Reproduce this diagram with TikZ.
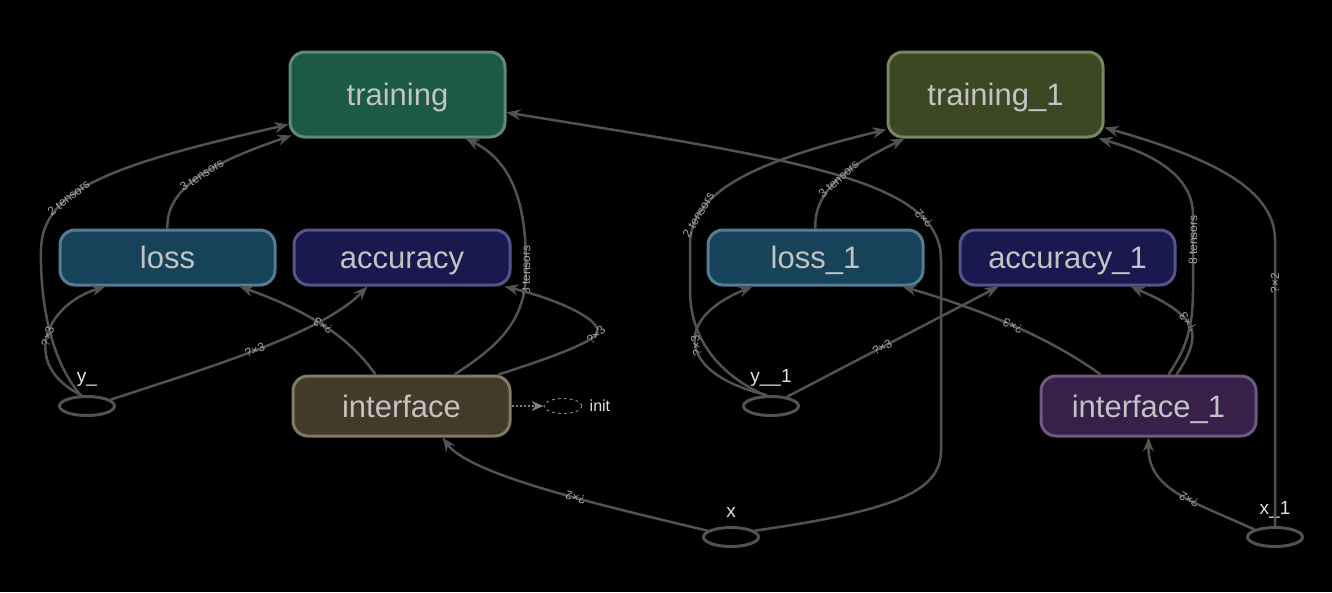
\documentclass[tikz,border=0pt]{standalone}
\usepackage{fontspec}
\setmainfont{Liberation Sans}
\usetikzlibrary{arrows.meta,shapes.geometric,calc}
\definecolor{edgec}{RGB}{82,82,82}
\definecolor{nodetxt}{RGB}{195,195,195}
\definecolor{phtxt}{RGB}{225,225,225}
\definecolor{elabtxt}{RGB}{165,165,165}
\definecolor{trfill}{RGB}{27,90,67}
\definecolor{trdraw}{RGB}{95,140,118}
\definecolor{tronefill}{RGB}{62,71,35}
\definecolor{tronedraw}{RGB}{120,135,95}
\definecolor{lossfill}{RGB}{22,66,90}
\definecolor{lossdraw}{RGB}{85,125,150}
\definecolor{accfill}{RGB}{25,25,80}
\definecolor{accdraw}{RGB}{85,85,140}
\definecolor{iffill}{RGB}{67,58,42}
\definecolor{ifdraw}{RGB}{130,122,105}
\definecolor{ifonefill}{RGB}{55,32,74}
\definecolor{ifonedraw}{RGB}{110,90,130}
\begin{document}
\begin{tikzpicture}[x=1pt,y=-1pt,
  box/.style={draw, line width=3pt, rounded corners=15pt, minimum width=215pt,
    minimum height=55pt, inner sep=0pt, text height=22pt, text depth=0pt,
    text=nodetxt, font=\fontsize{31}{34}\selectfont},
  ph/.style={ellipse, draw=edgec, line width=3pt, minimum width=55pt,
    minimum height=19pt, inner sep=0pt},
  phl/.style={text=phtxt, font=\fontsize{19}{21}\selectfont, inner sep=1pt},
  conn/.style={draw=edgec, line width=2.5pt, -{Stealth[length=14pt,width=11pt]}},
  dotconn/.style={draw=gray, line width=2pt, dotted, -{Stealth[length=12pt,width=10pt]}},
  elab/.style={sloped, allow upside down, text=elabtxt, font=\fontsize{12}{13}\selectfont, inner sep=1pt},
]
\fill[black] (0,0) rectangle (1332,592);
\useasboundingbox (0,0) rectangle (1332,592);

% nodes
\node[box, fill=trfill, draw=trdraw, minimum height=85pt] (train) at (397.5,94.5) {training};
\node[box, fill=tronefill, draw=tronedraw, minimum height=85pt] (train1) at (995.5,94.5) {training\_1};
\node[box, fill=lossfill, draw=lossdraw] (loss) at (167.5,257.5) {loss};
\node[box, fill=accfill, draw=accdraw, minimum width=216pt] (acc) at (402,257.5) {accuracy};
\node[box, fill=lossfill, draw=lossdraw] (loss1) at (815.5,257.5) {loss\_1};
\node[box, fill=accfill, draw=accdraw] (acc1) at (1067.5,257.5) {accuracy\_1};
\node[box, fill=iffill, draw=ifdraw, minimum height=60pt, minimum width=217pt] (iface) at (401.5,406) {interface};
\node[box, fill=ifonefill, draw=ifonedraw, minimum height=60pt] (iface1) at (1148.5,406) {interface\_1};

\node[ellipse, draw=gray, dashed, line width=1pt, minimum width=38pt, minimum height=15pt, inner sep=0pt,
  label={[phl, font=\fontsize{16}{18}\selectfont, label distance=6pt]right:init}] (init) at (563,406) {};
\node[ph, label={[phl, label distance=7pt]above:y\_}] (yl) at (87,406) {};
\node[ph, label={[phl, label distance=7pt]above:y\_\_1}] (y1) at (771,406) {};
\node[ph, label={[phl, label distance=7pt]above:x}] (x) at (731,537) {};
\node[ph, label={[phl, label distance=7pt]above:x\_1}] (x1) at (1275,537) {};

% left graph edges
\draw[conn] (yl.120) .. controls (50,360) and (40,300) .. (41,250)
  .. controls (42,190) and (110,165) .. ($(train.south west)+(0,-14)$) node[elab,pos=.35]{2 tensors};
\draw[conn] (yl.118) .. controls (20,365) and (45,305) .. ($(loss.south west)+(47,0)$) node[elab,pos=.5]{?×3};
\draw[conn] (loss.north) .. controls (165,185) and (220,160) .. ($(train.south west)+(3,-3)$) node[elab,pos=.5]{3 tensors};
\draw[conn] (yl.15) .. controls (200,370) and (320,335) .. ($(acc.south west)+(75,0)$) node[elab,pos=.5]{?×3};
\draw[conn] ($(iface.north)+(-26,0)$) .. controls (355,345) and (320,315) .. ($(loss.south east)+(-37,0)$) node[elab,pos=.55]{?×3};
\draw[conn] ($(iface.north)+(53,0)$) .. controls (500,345) and (526,320) .. (526,270) node[elab,pos=1]{8 tensors}
  .. controls (527,200) and (510,160) .. ($(train.south)+(68,0)$);
\draw[conn] ($(iface.north east)+(-13,0)$) .. controls (550,358) and (585,345) .. (596,335) node[elab,pos=1]{?×3}
  .. controls (607,322) and (560,300) .. ($(acc.south east)+(-7,0)$);
\draw[dotconn] (iface.east) -- (init.west);
\draw[conn] (x.165) .. controls (600,505) and (470,475) .. ($(iface.south)+(41,0)$) node[elab,pos=.4]{?×2};
\draw[conn] (x.15) .. controls (900,510) and (941,490) .. (941,450) -- (941,260)
  .. controls (941,180) and (800,160) .. ($(train.east)+(0,18)$) node[elab,pos=.2]{?×2};

% right graph edges
\draw[conn] (y1.120) .. controls (720,375) and (690,340) .. (690,290) -- (690,245)
  .. controls (690,190) and (760,160) .. ($(train1.south west)+(0,-9)$) node[elab,pos=.2]{2 tensors};
\draw[conn] (y1.110) .. controls (680,375) and (670,320) .. ($(loss1.south west)+(46,0)$) node[elab,pos=.5]{?×3};
\draw[conn] (loss1.north) .. controls (813,190) and (850,165) .. ($(train1.south west)+(18,0)$) node[elab,pos=.5]{3 tensors};
\draw[conn] (y1.30) -- ($(acc1.south west)+(40,0)$) node[elab,pos=.45]{?×3};
\draw[conn] ($(iface1.north)+(-48,0)$) .. controls (1060,345) and (1000,315) .. ($(loss1.south east)+(-22,0)$) node[elab,pos=.55]{?×3};
\draw[conn] ($(iface1.north)+(28,0)$) .. controls (1190,355) and (1198,335) .. (1188,322) node[elab,pos=1]{?×3}
  .. controls (1175,305) and (1150,295) .. ($(acc1.south east)+(-46,0)$);
\draw[conn] ($(iface1.north)+(20,0)$) .. controls (1185,350) and (1193,330) .. (1193,290)
  -- (1193,240) node[elab,pos=1]{8 tensors} -- (1193,215)
  .. controls (1193,170) and (1140,150) .. ($(train1.south east)+(-6,0)$);
\draw[conn] (x1.north) -- (1275,283) node[elab,pos=1]{?×2} -- (1275,240)
  .. controls (1275,185) and (1200,155) .. ($(train1.east)+(0,33)$);
\draw[conn] (x1.160) .. controls (1190,500) and (1148,490) .. (iface1.south) node[elab,pos=.4]{?×2};
\end{tikzpicture}
\end{document}
